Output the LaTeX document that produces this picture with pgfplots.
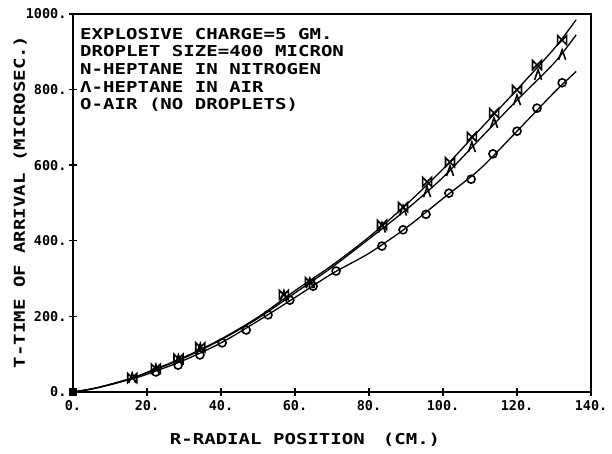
\documentclass[border=0pt]{standalone}
\usepackage{pgfplots}
\pgfplotsset{compat=1.18}
\usepackage{fontspec}
\setmainfont{DejaVu Sans Mono}[FakeStretch=1.27]
\newfontfamily\tickfont{DejaVu Sans Mono Bold}[FakeStretch=1.0]

\pgfdeclareplotmark{bowtie}{%
  \pgfpathmoveto{\pgfpoint{-\pgfplotmarksize}{-\pgfplotmarksize}}%
  \pgfpathlineto{\pgfpoint{-\pgfplotmarksize}{\pgfplotmarksize}}%
  \pgfpathlineto{\pgfpoint{\pgfplotmarksize}{-\pgfplotmarksize}}%
  \pgfpathlineto{\pgfpoint{\pgfplotmarksize}{\pgfplotmarksize}}%
  \pgfpathclose
  \pgfusepathqstroke}
\pgfdeclareplotmark{lambda}{%
  \pgfpathmoveto{\pgfpoint{-0.7\pgfplotmarksize}{-\pgfplotmarksize}}%
  \pgfpathlineto{\pgfpoint{0pt}{\pgfplotmarksize}}%
  \pgfpathlineto{\pgfpoint{0.7\pgfplotmarksize}{-\pgfplotmarksize}}%
  \pgfusepathqstroke}

\begin{document}
\begin{tikzpicture}
\begin{axis}[
  scale only axis, width=518pt, height=378pt,
  xmin=0, xmax=140, ymin=0, ymax=1000,
  xtick={0,20,...,140}, ytick={0,200,...,1000},
  xticklabels={0.,20.,40.,60.,80.,100.,120.,140.},
  yticklabels={0.,200.,400.,600.,800.,1000.},
  tick align=center, xtick pos=bottom, ytick pos=left,
  major tick length=8pt,
  axis line style={line width=1.8pt},
  every tick/.style={line width=1.4pt, black},
  tick label style={font=\tickfont\fontsize{13.5}{13.5}\selectfont},
  xticklabel style={yshift=-1pt},
  yticklabel style={xshift=1pt},
  label style={font=\bfseries\fontsize{15}{17.6}\selectfont},
  xlabel={R-RADIAL POSITION\hspace{18pt}(CM.)},
  ylabel={T-TIME OF ARRIVAL (MICROSEC.)},
  xlabel style={at={(axis description cs:0.448,-0.127)}, anchor=center},
  ylabel style={at={(axis description cs:-0.102,0.503)}, anchor=center},
  clip=false,
]
% smooth curves
\addplot[black, line width=1.3pt, smooth] coordinates {
  (0,0) (5,8) (10,20) (16,37) (20,52) (30,92) (40,140) (50,198) (60,268)
  (70,335) (80,410) (90,495) (100,590) (110,695) (120,800) (130,908) (136,985)};
\addplot[black, line width=1.3pt, smooth] coordinates {
  (0,0) (5,8) (10,20) (16,37) (20,51) (30,90) (40,138) (50,195) (60,262)
  (70,330) (80,405) (90,482) (100,568) (110,670) (120,772) (130,870) (136,945)};
\addplot[black, line width=1.3pt, smooth] coordinates {
  (0,0) (5,8) (10,19) (16,35) (20,47) (30,84) (40,130) (50,188) (60,250)
  (70,313) (80,367) (90,434) (100,512) (110,590) (120,690) (130,792) (136,848)};
% markers
\addplot[only marks, black, mark=bowtie, mark size=4.5pt, mark options={line width=1.6pt}] coordinates {
  (16,37) (22.4,62) (28.5,88) (34.4,118) (57,257) (64,291) (83.5,442) (89.2,489)
  (95.7,556) (101.9,608) (107.8,675) (113.8,738) (120,799) (125.4,865) (132.2,931)};
\addplot[only marks, black, mark=lambda, mark size=5pt, mark options={line width=1.6pt}] coordinates {
  (16,37) (22.4,60) (28.5,85) (34.4,115) (57,255) (64,288) (83.5,435) (89.2,480)
  (95.7,529) (101.9,585) (107.8,648) (113.8,712) (120,772) (125.7,839) (132.2,892)};
\addplot[only marks, black, mark=o, mark size=4pt, mark options={line width=1.6pt}] coordinates {
  (22.4,53) (28.4,71) (34.3,98) (40.3,130) (46.8,164) (52.7,204) (58.6,243)
  (64.9,280) (71.1,320) (83.5,386) (89.2,429) (95.4,470) (101.6,526) (107.6,563)
  (113.5,630) (120,690) (125.4,751) (132.2,818)};
\addplot[only marks, black, mark=square*, mark size=3.5pt] coordinates {(0,0)};
\node[anchor=north west, align=left, inner sep=0pt,
      font=\bfseries\fontsize{15}{17.6}\selectfont]
  at (rel axis cs:0.0135,0.963)
  {EXPLOSIVE CHARGE=5 GM.\\DROPLET SIZE=400 MICRON\\N-HEPTANE IN NITROGEN\\Λ-HEPTANE IN AIR\\O-AIR (NO DROPLETS)};
\end{axis}
\pgfresetboundingbox
\path[use as bounding box] ([shift={(-73pt,-62pt)}]current axis.south west) rectangle ([shift={(21pt,14pt)}]current axis.north east);
\end{tikzpicture}
\end{document}
